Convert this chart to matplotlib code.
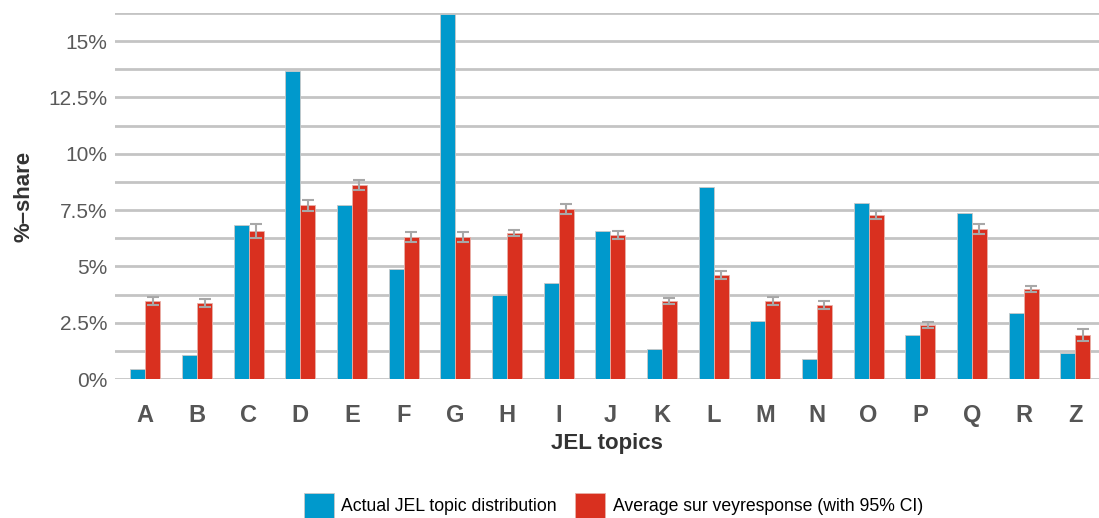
import numpy as np
import matplotlib
matplotlib.use('Agg')
import matplotlib.pyplot as plt

plt.rcParams['font.family'] = ['Liberation Sans', 'DejaVu Sans']

topics = ['A', 'B', 'C', 'D', 'E', 'F', 'G', 'H', 'I', 'J', 'K', 'L', 'M', 'N', 'O', 'P', 'Q', 'R', 'Z']
actual = [0.44, 1.07, 6.83, 13.67, 7.72, 4.88, 16.2, 3.73, 4.26, 6.57,
          1.33, 8.52, 2.57, 0.89, 7.81, 1.95, 7.37, 2.93, 1.15]
survey = [3.46, 3.37, 6.57, 7.72, 8.61, 6.30, 6.30, 6.48, 7.55, 6.39,
          3.46, 4.62, 3.46, 3.28, 7.28, 2.40, 6.66, 3.99, 1.95]
survey_err = [0.18, 0.17, 0.30, 0.24, 0.22, 0.22, 0.22, 0.12, 0.22, 0.18,
              0.12, 0.17, 0.17, 0.17, 0.17, 0.14, 0.24, 0.14, 0.27]

blue = '#0099cc'
red = '#d9301f'

fig = plt.figure(figsize=(10.99, 5.18), dpi=100)
ax = fig.add_axes([0.105, 0.268, 0.895, 0.707])

x = np.arange(len(topics))
w = 0.29
ax.bar(x - w / 2, actual, w, color=blue, edgecolor='#c8c8c8', linewidth=0.6,
       label='Actual JEL topic distribution', zorder=3)
ax.bar(x + w / 2, survey, w, color=red, edgecolor='#e8b0a8', linewidth=0.6,
       label='Average sur veyresponse (with 95% CI)', zorder=3)
ax.errorbar(x + w / 2, survey, yerr=survey_err, fmt='none', ecolor='#a8a8a8',
            elinewidth=1.5, capsize=4, capthick=1.5, zorder=4)

ax.set_xlim(-0.58, 18.46)
ax.set_ylim(0, 16.25)
ax.set_yticks(np.arange(0, 16.3, 1.25), minor=True)
ax.set_yticks([0, 2.5, 5, 7.5, 10, 12.5, 15])
ax.set_yticklabels(['0%', '2.5%', '5%', '7.5%', '10%', '12.5%', '15%'])
ax.grid(axis='y', which='both', color='#c4c4c4', linewidth=2, zorder=0)
ax.tick_params(axis='y', which='both', length=0, labelsize=15, labelcolor='#595959', pad=6)
ax.set_xticks(x)
ax.set_xticklabels(topics, fontsize=17, color='#555555', fontweight='bold')
ax.tick_params(axis='x', length=0, pad=18)
for s in ax.spines.values():
    s.set_visible(False)

ax.set_xlabel('JEL topics', fontsize=16, fontweight='bold', color='#333333', labelpad=4)
ax.set_ylabel('%\u2013share', fontsize=16, fontweight='bold', color='#333333')
ax.yaxis.set_label_coords(-0.082, 0.5)

fig.legend(loc='lower center', bbox_to_anchor=(0.558, -0.03), ncol=2, frameon=False,
           fontsize=12.7, handlelength=1.7, handleheight=1.8,
           columnspacing=1.0, handletextpad=0.45)

fig.savefig('out.png', dpi=100)
